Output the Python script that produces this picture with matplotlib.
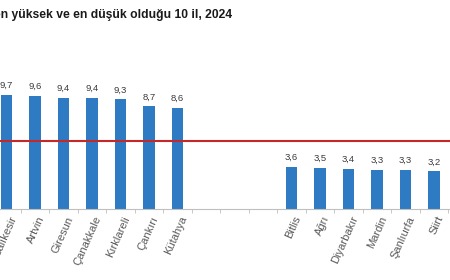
import matplotlib
matplotlib.use("Agg")
import matplotlib.pyplot as plt
from matplotlib.ticker import FixedLocator

plt.rcParams['font.family'] = ['Liberation Sans', 'DejaVu Sans']

title = "Kaba ölüm hızının en yüksek ve en düşük olduğu 10 il, 2024"
categories = ["Balıkesir", "Artvin", "Giresun", "Çanakkale", "Kırklareli", "Çankırı", "Kütahya",
              "", "", "",
              "Bitlis", "Ağrı", "Diyarbakır", "Mardin", "Şanlıurfa", "Siirt", "Şırnak"]
values = [9.7, 9.6, 9.4, 9.4, 9.3, 8.7, 8.6,
          None, None, None,
          3.6, 3.5, 3.4, 3.3, 3.3, 3.2, 3.0]
turkiye_avg = 5.8

W, H = 450, 280
fig = plt.figure(figsize=(W / 100, H / 100), dpi=100)
slot = 28.5
c0 = 6.5
left_px = c0 - slot * 0.5
right_px = c0 + slot * (len(categories) - 0.5)
base_px = 209
unit_px = 11.8
ax = fig.add_axes([left_px / W, (H - base_px) / H, (right_px - left_px) / W, unit_px * 10 / H])

xs = list(range(len(categories)))
bx = [x for x, v in zip(xs, values) if v is not None]
bv = [v for v in values if v is not None]
ax.bar(bx, bv, width=0.42, color='#2E7BC4', zorder=2)
for x, v in zip(bx, bv):
    ax.annotate(f"{v:.1f}".replace('.', ','), (x, v), xytext=(0, 3.5), textcoords='offset points',
                ha='center', va='bottom', fontsize=6.8, color='#3a3a3a', clip_on=False)

ax.axhline(turkiye_avg, color='#C62828', lw=1.5, zorder=3)

ax.set_xlim(-0.5, len(categories) - 0.5)
ax.set_ylim(0, 10)
for s in ['top', 'right', 'left']:
    ax.spines[s].set_visible(False)
ax.spines['bottom'].set_color('#BFBFBF')
ax.set_yticks([])
ax.xaxis.set_major_locator(FixedLocator([x + 0.08 for x in xs]))
ax.set_xticklabels(categories, rotation=66, ha='right', rotation_mode='anchor',
                   fontsize=8, color='#595959')
ax.tick_params(axis='x', which='major', length=0, pad=4)
ax.xaxis.set_minor_locator(FixedLocator([x + 0.5 for x in xs[:-1]]))
ax.tick_params(axis='x', which='minor', length=3, color='#BFBFBF', direction='out')

fig.text(232 / W, 1 - 15 / H, title, ha='right', va='center', fontsize=8.7,
         fontweight='bold', color='#1a1a1a')

fig.savefig('out.png', dpi=100)
